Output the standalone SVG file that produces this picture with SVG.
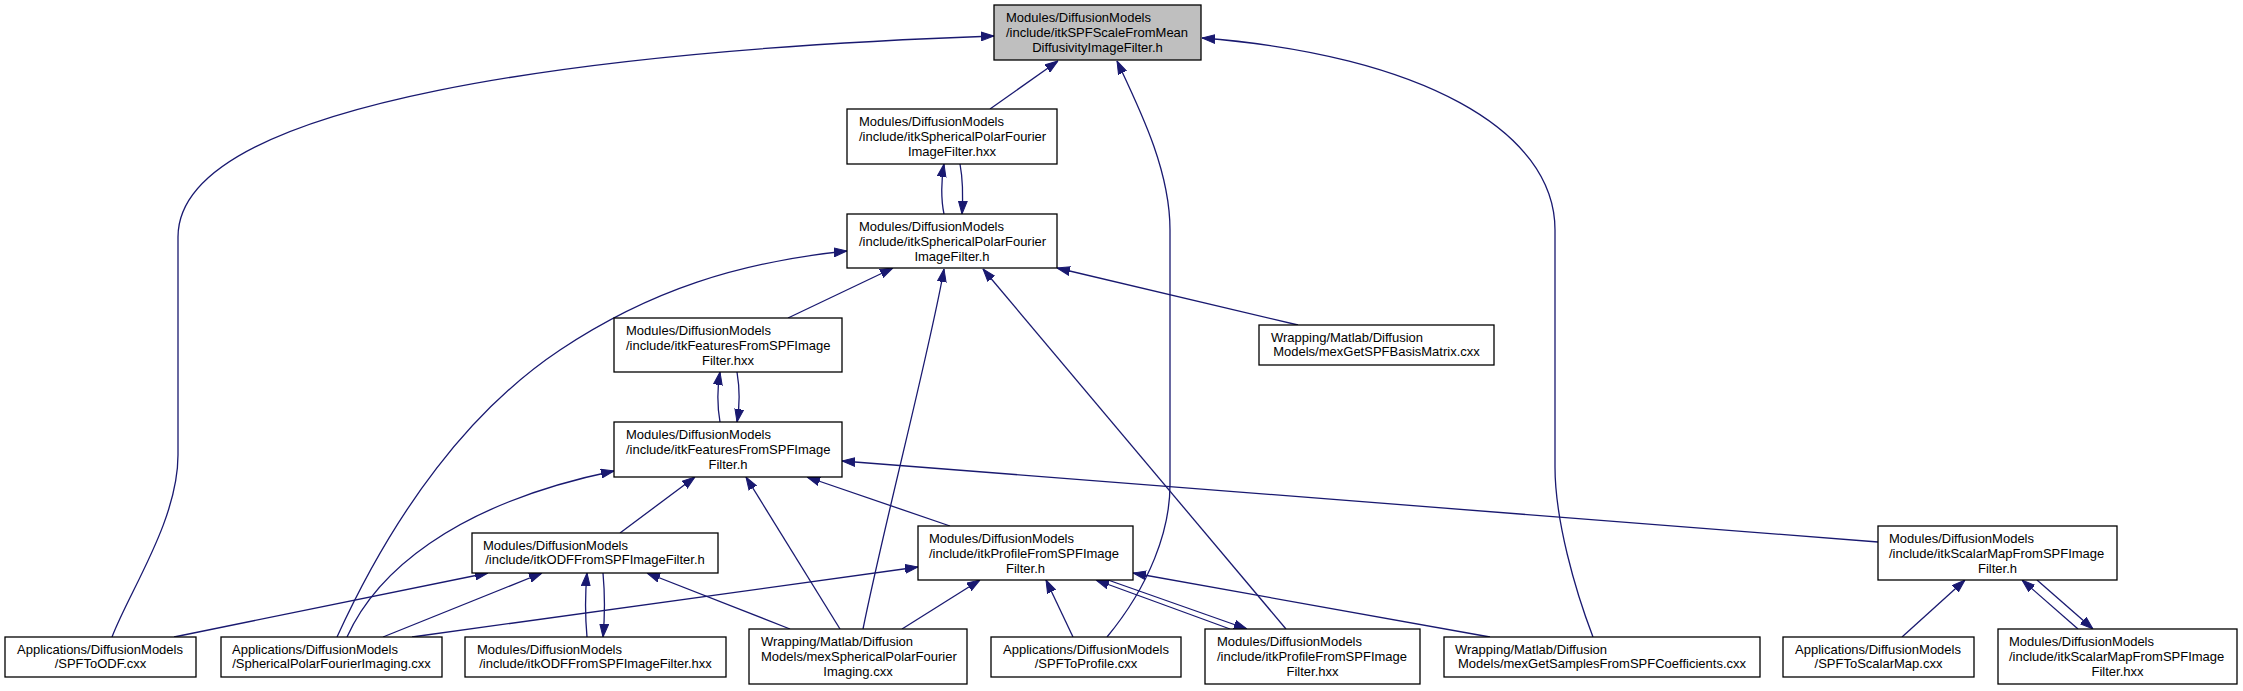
<svg xmlns="http://www.w3.org/2000/svg" width="2243" height="691" viewBox="0 0 2243 691">
<style>
.n rect{fill:#ffffff;stroke:#000000;stroke-width:1.3}
.n.root rect{fill:#bfbfbf}
.n text{font-family:"Liberation Sans",Arial,sans-serif;font-size:13px;fill:#000000}
.n text.c{text-anchor:middle}
#edges path{fill:none;stroke:#191970;stroke-width:1.3;marker-end:url(#arr)}
</style>
<defs>
<marker id="arr" markerUnits="userSpaceOnUse" markerWidth="13" markerHeight="10" viewBox="0 0 13 10" refX="13" refY="5" orient="auto">
<path d="M0,0.6 L13,5 L0,9.4 z" fill="#191970" stroke="#191970" stroke-width="1"/>
</marker>
</defs>
<rect width="2243" height="691" fill="#ffffff"/>
<g id="edges">
<path d="M112,637 C130,590 178,520 178,455 L178,237 C178,100 600,50 994,36"/>
<path d="M990,109 L1058,61"/>
<path d="M1107,637 C1150,585 1170,530 1170,485 L1170,230 C1170,170 1140,110 1117,61"/>
<path d="M1593,637 C1575,590 1555,520 1555,467 L1555,230 C1555,130 1420,55 1202,38"/>
<path d="M944,214 C941,200 941,180 944,164"/>
<path d="M960,164 C963,180 963,198 962,214"/>
<path d="M337,637 C395,510 470,410 560,350 C650,290 740,262 847,251"/>
<path d="M788,318 L893,268"/>
<path d="M863,629 C885,520 930,350 944,269"/>
<path d="M1286,629 L983,269"/>
<path d="M1298,325 L1057,268"/>
<path d="M720,422 C717,405 717,390 720,372"/>
<path d="M737,372 C740,390 740,405 737,422"/>
<path d="M347,637 C375,575 450,505 614,471"/>
<path d="M620,533 L695,477"/>
<path d="M840,629 L746,477"/>
<path d="M950,526 L807,477"/>
<path d="M1878,542 L842,461"/>
<path d="M174,637 L488,573"/>
<path d="M383,637 L542,573"/>
<path d="M587,637 C585,615 585,595 587,573"/>
<path d="M603,573 C605,595 605,615 603,637"/>
<path d="M790,629 L647,573"/>
<path d="M412,637 L918,567"/>
<path d="M902,629 L980,580"/>
<path d="M1073,637 L1046,580"/>
<path d="M1230,629 L1096,580"/>
<path d="M1108,580 L1247,629"/>
<path d="M1490,637 L1133,573"/>
<path d="M1902,637 L1965,580"/>
<path d="M2078,629 L2022,580"/>
<path d="M2037,580 L2093,629"/>
</g>
<g id="node-top" class="n root">
<rect x="994" y="5" width="207" height="55"/>
<text x="1006" y="22">Modules/DiffusionModels</text>
<text x="1006" y="37">/include/itkSPFScaleFromMean</text>
<text class="c" x="1097.5" y="51.5">DiffusivityImageFilter.h</text>
</g>
<g id="node-spfhxx" class="n">
<rect x="847" y="109" width="210" height="55"/>
<text x="859" y="126">Modules/DiffusionModels</text>
<text x="859" y="141">/include/itkSphericalPolarFourier</text>
<text class="c" x="952" y="155.5">ImageFilter.hxx</text>
</g>
<g id="node-spfh" class="n">
<rect x="847" y="214" width="210" height="54"/>
<text x="859" y="231">Modules/DiffusionModels</text>
<text x="859" y="246">/include/itkSphericalPolarFourier</text>
<text class="c" x="952" y="260.5">ImageFilter.h</text>
</g>
<g id="node-feathxx" class="n">
<rect x="614" y="318" width="228" height="54"/>
<text x="626" y="335">Modules/DiffusionModels</text>
<text x="626" y="350">/include/itkFeaturesFromSPFImage</text>
<text class="c" x="728" y="364.5">Filter.hxx</text>
</g>
<g id="node-feath" class="n">
<rect x="614" y="422" width="228" height="55"/>
<text x="626" y="439">Modules/DiffusionModels</text>
<text x="626" y="454">/include/itkFeaturesFromSPFImage</text>
<text class="c" x="728" y="468.5">Filter.h</text>
</g>
<g id="node-mexbasis" class="n">
<rect x="1259" y="325" width="235" height="40"/>
<text x="1271" y="341.5">Wrapping/Matlab/Diffusion</text>
<text class="c" x="1376.5" y="356">Models/mexGetSPFBasisMatrix.cxx</text>
</g>
<g id="node-odfh" class="n">
<rect x="472" y="533" width="246" height="40"/>
<text x="483" y="549.5">Modules/DiffusionModels</text>
<text class="c" x="595" y="564">/include/itkODFFromSPFImageFilter.h</text>
</g>
<g id="node-profh" class="n">
<rect x="918" y="526" width="215" height="54"/>
<text x="929" y="543">Modules/DiffusionModels</text>
<text x="929" y="558">/include/itkProfileFromSPFImage</text>
<text class="c" x="1025.5" y="572.5">Filter.h</text>
</g>
<g id="node-scalarh" class="n">
<rect x="1878" y="526" width="239" height="54"/>
<text x="1889" y="543">Modules/DiffusionModels</text>
<text x="1889" y="558">/include/itkScalarMapFromSPFImage</text>
<text class="c" x="1997.5" y="572.5">Filter.h</text>
</g>
<g id="node-spftoodf" class="n">
<rect x="5" y="637" width="191" height="40"/>
<text x="17" y="653.5">Applications/DiffusionModels</text>
<text class="c" x="100.5" y="668">/SPFToODF.cxx</text>
</g>
<g id="node-spi" class="n">
<rect x="221" y="637" width="221" height="40"/>
<text x="232" y="653.5">Applications/DiffusionModels</text>
<text class="c" x="331.5" y="668">/SphericalPolarFourierImaging.cxx</text>
</g>
<g id="node-odfhxx" class="n">
<rect x="465" y="637" width="261" height="40"/>
<text x="477" y="653.5">Modules/DiffusionModels</text>
<text class="c" x="595.5" y="668">/include/itkODFFromSPFImageFilter.hxx</text>
</g>
<g id="node-mexspi" class="n">
<rect x="749" y="629" width="218" height="55"/>
<text x="761" y="646">Wrapping/Matlab/Diffusion</text>
<text x="761" y="661">Models/mexSphericalPolarFourier</text>
<text class="c" x="858" y="675.5">Imaging.cxx</text>
</g>
<g id="node-spftoprofile" class="n">
<rect x="991" y="637" width="190" height="40"/>
<text x="1003" y="653.5">Applications/DiffusionModels</text>
<text class="c" x="1086" y="668">/SPFToProfile.cxx</text>
</g>
<g id="node-profhxx" class="n">
<rect x="1205" y="629" width="215" height="55"/>
<text x="1217" y="646">Modules/DiffusionModels</text>
<text x="1217" y="661">/include/itkProfileFromSPFImage</text>
<text class="c" x="1312.5" y="675.5">Filter.hxx</text>
</g>
<g id="node-mexsamples" class="n">
<rect x="1444" y="637" width="316" height="40"/>
<text x="1455" y="653.5">Wrapping/Matlab/Diffusion</text>
<text class="c" x="1602" y="668">Models/mexGetSamplesFromSPFCoefficients.cxx</text>
</g>
<g id="node-spftoscalar" class="n">
<rect x="1783" y="637" width="191" height="40"/>
<text x="1795" y="653.5">Applications/DiffusionModels</text>
<text class="c" x="1878.5" y="668">/SPFToScalarMap.cxx</text>
</g>
<g id="node-scalarhxx" class="n">
<rect x="1998" y="629" width="239" height="55"/>
<text x="2009" y="646">Modules/DiffusionModels</text>
<text x="2009" y="661">/include/itkScalarMapFromSPFImage</text>
<text class="c" x="2117.5" y="675.5">Filter.hxx</text>
</g>
</svg>
